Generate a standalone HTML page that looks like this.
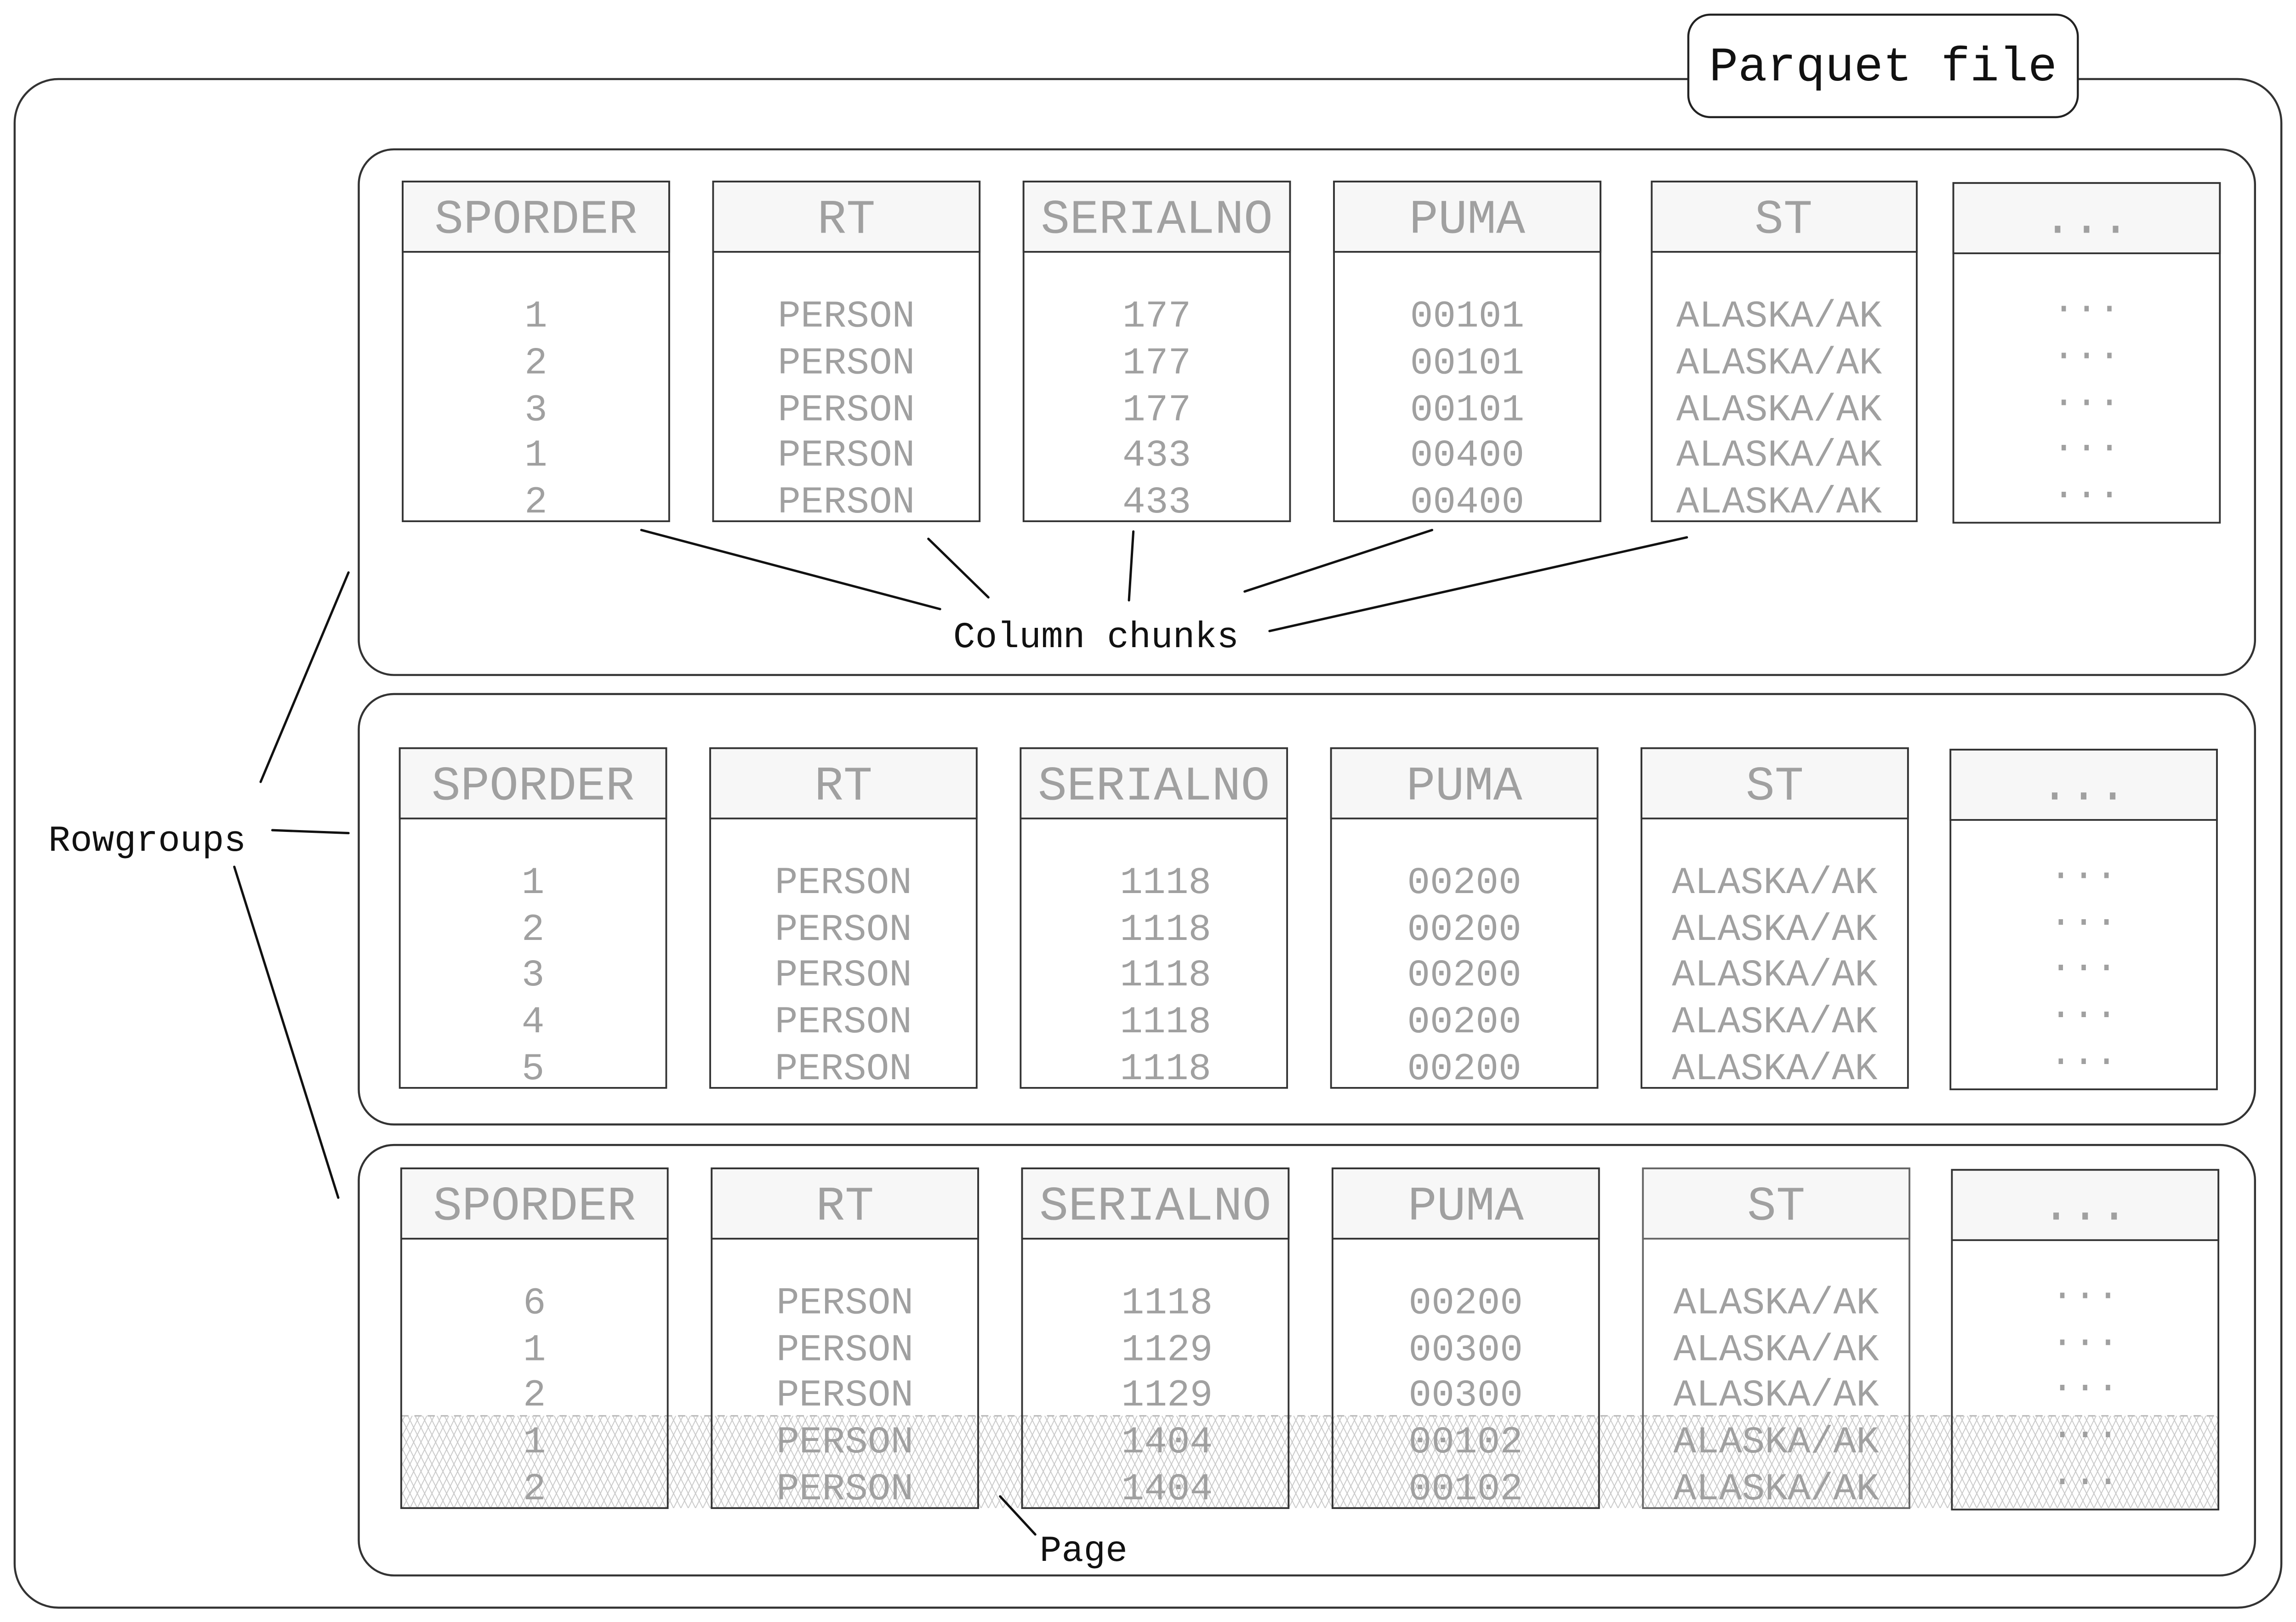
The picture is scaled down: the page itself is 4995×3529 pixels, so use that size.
<!DOCTYPE html>
<html><head><meta charset="utf-8"><style>html,body{margin:0;padding:0;background:#fff}svg{display:block}</style></head><body>
<svg width="4995" height="3529" viewBox="0 0 1568 1107.8" preserveAspectRatio="none" xmlns="http://www.w3.org/2000/svg">
<defs>
<pattern id="h" width="5" height="10" patternUnits="userSpaceOnUse">
<path d="M0,0 L5,10 M5,0 L0,10" stroke="#c8c8c8" stroke-width="0.6"/>
</pattern>
</defs>
<g fill="none" stroke="#333" stroke-width="1.4">
<rect x="10" y="54" width="1548" height="1044" rx="30"/>
<rect x="245" y="102" width="1295" height="359" rx="24"/>
<rect x="245" y="474" width="1295" height="294" rx="24"/>
<rect x="245" y="782" width="1295" height="294" rx="24"/>
</g>
<rect x="1153" y="10" width="266" height="70" rx="15" fill="#fff" stroke="#222" stroke-width="1.4"/>
<text x="1286" y="55" text-anchor="middle" font-family="Liberation Mono, monospace" font-size="33" fill="#111">Parquet file</text>

<rect x="274" y="967" width="1241" height="63" fill="url(#h)"/>
<line x1="274" y1="967" x2="1515" y2="967" stroke="#bbb" stroke-width="1" stroke-dasharray="5,4"/>

<g fill="none" stroke="#333" stroke-width="1.2">
<!-- row1 -->
<rect x="275" y="124" width="182" height="232"/><rect x="275" y="124" width="182" height="48" fill="#f7f7f7"/>
<rect x="487" y="124" width="182" height="232"/><rect x="487" y="124" width="182" height="48" fill="#f7f7f7"/>
<rect x="699" y="124" width="182" height="232"/><rect x="699" y="124" width="182" height="48" fill="#f7f7f7"/>
<rect x="911" y="124" width="182" height="232"/><rect x="911" y="124" width="182" height="48" fill="#f7f7f7"/>
<rect x="1128" y="124" width="181" height="232"/><rect x="1128" y="124" width="181" height="48" fill="#f7f7f7"/>
<rect x="1334" y="125" width="182" height="232"/><rect x="1334" y="125" width="182" height="48" fill="#f7f7f7"/>
<!-- row2 -->
<rect x="273" y="511" width="182" height="232"/><rect x="273" y="511" width="182" height="48" fill="#f7f7f7"/>
<rect x="485" y="511" width="182" height="232"/><rect x="485" y="511" width="182" height="48" fill="#f7f7f7"/>
<rect x="697" y="511" width="182" height="232"/><rect x="697" y="511" width="182" height="48" fill="#f7f7f7"/>
<rect x="909" y="511" width="182" height="232"/><rect x="909" y="511" width="182" height="48" fill="#f7f7f7"/>
<rect x="1121" y="511" width="182" height="232"/><rect x="1121" y="511" width="182" height="48" fill="#f7f7f7"/>
<rect x="1332" y="512" width="182" height="232"/><rect x="1332" y="512" width="182" height="48" fill="#f7f7f7"/>
<!-- row3 -->
<rect x="274" y="798" width="182" height="232"/><rect x="274" y="798" width="182" height="48" fill="#f7f7f7"/>
<rect x="486" y="798" width="182" height="232"/><rect x="486" y="798" width="182" height="48" fill="#f7f7f7"/>
<rect x="698" y="798" width="182" height="232"/><rect x="698" y="798" width="182" height="48" fill="#f7f7f7"/>
<rect x="910" y="798" width="182" height="232"/><rect x="910" y="798" width="182" height="48" fill="#f7f7f7"/>
<rect x="1122" y="798" width="182" height="232" stroke="#666"/><rect x="1122" y="798" width="182" height="48" fill="#f7f7f7" stroke="#666"/>
<rect x="1333" y="799" width="182" height="232"/><rect x="1333" y="799" width="182" height="48" fill="#f7f7f7"/>
</g>

<g font-family="Liberation Mono, monospace" fill="#a0a0a0" text-anchor="middle">
<g font-size="33">
<text x="366" y="159">SPORDER</text><text x="578" y="159">RT</text><text x="790" y="159">SERIALNO</text><text x="1002" y="159">PUMA</text><text x="1218" y="159">ST</text><text x="1425" y="159">...</text>
<text x="364" y="546">SPORDER</text><text x="576" y="546">RT</text><text x="788" y="546">SERIALNO</text><text x="1000" y="546">PUMA</text><text x="1212" y="546">ST</text><text x="1423" y="546">...</text>
<text x="365" y="833">SPORDER</text><text x="577" y="833">RT</text><text x="789" y="833">SERIALNO</text><text x="1001" y="833">PUMA</text><text x="1213" y="833">ST</text><text x="1424" y="833">...</text>
</g>
<g font-size="26">
<!-- row1 -->
<text x="366" y="223">1</text><text x="366" y="255">2</text><text x="366" y="287">3</text><text x="366" y="318">1</text><text x="366" y="350">2</text>
<text x="578" y="223">PERSON</text><text x="578" y="255">PERSON</text><text x="578" y="287">PERSON</text><text x="578" y="318">PERSON</text><text x="578" y="350">PERSON</text>
<text x="790" y="223">177</text><text x="790" y="255">177</text><text x="790" y="287">177</text><text x="790" y="318">433</text><text x="790" y="350">433</text>
<text x="1002" y="223">00101</text><text x="1002" y="255">00101</text><text x="1002" y="287">00101</text><text x="1002" y="318">00400</text><text x="1002" y="350">00400</text>
<text x="1215" y="223">ALASKA/AK</text><text x="1215" y="255">ALASKA/AK</text><text x="1215" y="287">ALASKA/AK</text><text x="1215" y="318">ALASKA/AK</text><text x="1215" y="350">ALASKA/AK</text>
<text x="1425" y="218">···</text><text x="1425" y="250">···</text><text x="1425" y="282">···</text><text x="1425" y="313">···</text><text x="1425" y="345">···</text>
<!-- row2 -->
<text x="364" y="610">1</text><text x="364" y="642">2</text><text x="364" y="673">3</text><text x="364" y="705">4</text><text x="364" y="737">5</text>
<text x="576" y="610">PERSON</text><text x="576" y="642">PERSON</text><text x="576" y="673">PERSON</text><text x="576" y="705">PERSON</text><text x="576" y="737">PERSON</text>
<text x="796" y="610">1118</text><text x="796" y="642">1118</text><text x="796" y="673">1118</text><text x="796" y="705">1118</text><text x="796" y="737">1118</text>
<text x="1000" y="610">00200</text><text x="1000" y="642">00200</text><text x="1000" y="673">00200</text><text x="1000" y="705">00200</text><text x="1000" y="737">00200</text>
<text x="1212" y="610">ALASKA/AK</text><text x="1212" y="642">ALASKA/AK</text><text x="1212" y="673">ALASKA/AK</text><text x="1212" y="705">ALASKA/AK</text><text x="1212" y="737">ALASKA/AK</text>
<text x="1423" y="605">···</text><text x="1423" y="637">···</text><text x="1423" y="668">···</text><text x="1423" y="700">···</text><text x="1423" y="732">···</text>
<!-- row3 -->
<text x="365" y="897">6</text><text x="365" y="929">1</text><text x="365" y="960">2</text><text x="365" y="992">1</text><text x="365" y="1024">2</text>
<text x="577" y="897">PERSON</text><text x="577" y="929">PERSON</text><text x="577" y="960">PERSON</text><text x="577" y="992">PERSON</text><text x="577" y="1024">PERSON</text>
<text x="797" y="897">1118</text><text x="797" y="929">1129</text><text x="797" y="960">1129</text><text x="797" y="992">1404</text><text x="797" y="1024">1404</text>
<text x="1001" y="897">00200</text><text x="1001" y="929">00300</text><text x="1001" y="960">00300</text><text x="1001" y="992">00102</text><text x="1001" y="1024">00102</text>
<text x="1213" y="897">ALASKA/AK</text><text x="1213" y="929">ALASKA/AK</text><text x="1213" y="960">ALASKA/AK</text><text x="1213" y="992">ALASKA/AK</text><text x="1213" y="1024">ALASKA/AK</text>
<text x="1424" y="892">···</text><text x="1424" y="924">···</text><text x="1424" y="955">···</text><text x="1424" y="987">···</text><text x="1424" y="1019">···</text>
</g>
</g>

<g stroke="#111" stroke-width="1.6" fill="none" stroke-linecap="round">
<line x1="438" y1="362" x2="642" y2="416"/>
<line x1="634" y1="368" x2="675" y2="408"/>
<line x1="774" y1="363" x2="771" y2="410"/>
<line x1="978" y1="362" x2="850" y2="404"/>
<line x1="1152" y1="367" x2="867" y2="431"/>
<line x1="238" y1="391" x2="178" y2="534"/>
<line x1="186" y1="567" x2="238" y2="569"/>
<line x1="160" y1="592" x2="231" y2="818"/>
<line x1="683" y1="1022" x2="707" y2="1048"/>
</g>
<g font-family="Liberation Mono, monospace" font-size="25" fill="#111">
<text x="651" y="442">Column chunks</text>
<text x="33" y="581">Rowgroups</text>
<text x="710" y="1066">Page</text>
</g>
</svg>
</body></html>
